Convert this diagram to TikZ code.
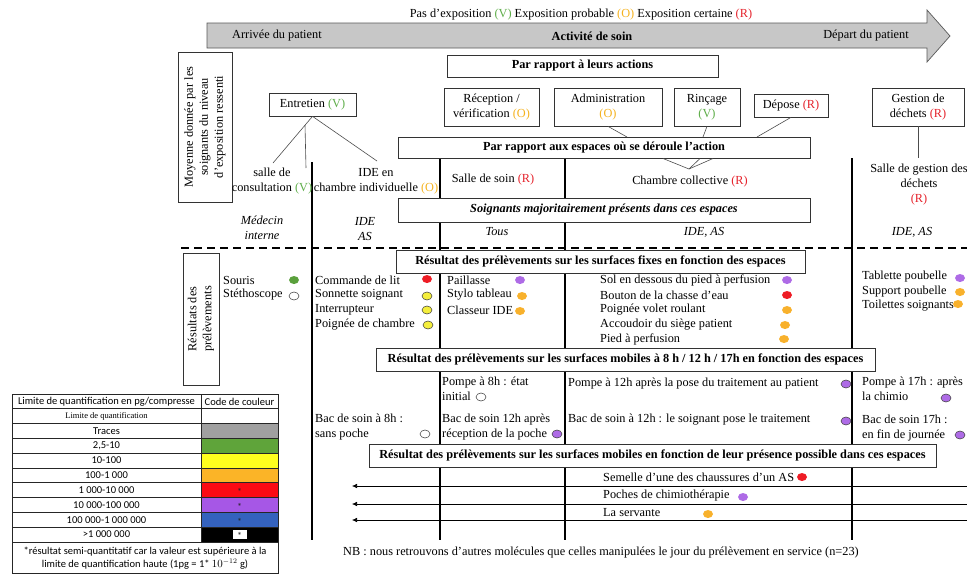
\documentclass[tikz,border=0pt]{standalone}
\usepackage{fontspec}
\setmainfont{Liberation Serif}
\newfontfamily\calib{Carlito}
\usetikzlibrary{arrows.meta,shapes.geometric}
\definecolor{tV}{HTML}{5FAE4A}
\definecolor{tO}{HTML}{F5B21E}
\definecolor{tR}{HTML}{E5222B}
\definecolor{dGreen}{HTML}{5AA03C}
\definecolor{dRed}{HTML}{EE1C25}
\definecolor{dYellow}{HTML}{F4EE3C}
\definecolor{dPurple}{HTML}{AE6BE6}
\definecolor{dOrange}{HTML}{F8B12C}
\definecolor{cGrey}{HTML}{A0A0A0}
\definecolor{cGreen}{HTML}{5FA43A}
\definecolor{cYellow}{HTML}{FFFF1E}
\definecolor{cOrange}{HTML}{FBB427}
\definecolor{cRed}{HTML}{FB0A14}
\definecolor{cPurple}{HTML}{A657E6}
\definecolor{cBlue}{HTML}{3462BE}
\newcommand{\fsz}{\fontsize{12.3}{15}\selectfont}
\newcommand{\tsz}{\calib\fontsize{10.5}{13}\selectfont}
\newcommand{\Vg}{\textcolor{tV}{(V)}}
\newcommand{\Og}{\textcolor{tO}{(O)}}
\newcommand{\Rg}{\textcolor{tR}{(R)}}
\begin{document}
\begin{tikzpicture}[x=1pt,y=-1pt,
  every node/.style={font=\fsz, inner sep=0pt},
  box/.style={draw=black!80, fill=white, line width=0.7pt, align=center},
  lbl/.style={anchor=west, align=left},
  dot/.style={ellipse, minimum width=10pt, minimum height=8pt, inner sep=0pt},
  odot/.style={dot, draw=black!75, line width=0.5pt},
  sep/.style={line width=1.7pt},
  conn/.style={draw=black!70, line width=0.6pt},
  parr/.style={line width=0.6pt, -{Latex[length=5pt,width=4.5pt]}},
  tbl/.style={font=\tsz},
  star/.style={font=\calib\fontsize{10}{10}\selectfont, text=black!85},
  tline/.style={draw=black!85, line width=0.7pt}
]
\useasboundingbox (0,0) rectangle (967,574);

% separators
\draw[sep] (312,162) -- (312,540);
\draw[sep] (440,158) -- (440,540);
\draw[sep] (565,158) -- (565,540);
\draw[sep] (852,158) -- (852,540);
\draw[sep, dash pattern=on 8pt off 5pt] (181,248) -- (967,248);

% timeline arrow
\draw[fill=black!22, draw=black!65, line width=0.7pt] (207,23) -- (927,23) -- (927,10) -- (950,36) -- (927,62) -- (927,48) -- (207,48) -- cycle;
\node (leg) at (581,15) {Pas d’exposition \Vg{} Exposition probable \Og{} Exposition certaine \Rg};
\node[anchor=west] (arrivee) at (232,36) {Arrivée du patient};
\node[font=\fsz\bfseries] (activite) at (592,36) {Activité de soin};
\node (depart) at (866,36) {Départ du patient};

% upper part
\node[box, rotate=90, minimum width=150, minimum height=54] (moy) at (205,127) {Moyenne donnée par les\\soignants du niveau\\d’exposition ressenti};
\node[box, font=\fsz\bfseries, minimum width=271, minimum height=22] (actions) at (582.5,66) {Par rapport à leurs actions};
\node[box, minimum width=87, minimum height=23] (ent) at (312.5,104.5) {Entretien \Vg};
\node[box, minimum width=95, minimum height=38] (rec) at (491.5,107) {Réception /\\vérification \Og};
\node[box, minimum width=108, minimum height=38] (adm) at (608,107) {Administration\\\Og};
\node[box, minimum width=66, minimum height=38] (rin) at (707,107) {Rinçage\\\Vg};
\node[box, minimum width=74, minimum height=23] (dpo) at (791,105.5) {Dépose \Rg};
\node[box, minimum width=92, minimum height=38] (ges) at (918,107) {Gestion de\\déchets \Rg};
\node[box, font=\fsz\bfseries, minimum width=412, minimum height=21] (esp) at (604,147.5) {Par rapport aux espaces où se déroule l’action};
\node[box, font=\fsz\bfseries\itshape, minimum width=412, minimum height=24] (soi) at (604,210) {Soignants majoritairement présents dans ces espaces};

\node[align=center] (sc) at (272,181) {salle de\\consultation \Vg};
\node[align=center] (ide) at (376,181) {IDE en\\chambre individuelle \Og};
\node (ss) at (493,180) {Salle de soin \Rg};
\node (cc) at (690,182) {Chambre collective \Rg};
\node[align=center] (sg) at (919,185) {Salle de gestion des\\déchets\\\Rg};
\node[align=center, font=\fsz\itshape] (med) at (262,228) {Médecin\\interne};
\node[align=center, font=\fsz\itshape] (ideas1) at (365,229) {IDE\\AS};
\node[font=\fsz\itshape] (tous) at (497,232) {Tous};
\node[font=\fsz\itshape] (ideas2) at (704,232) {IDE, AS};
\node[font=\fsz\itshape] (ideas3) at (912,232) {IDE, AS};

% connectors
\coordinate (e0) at (305,125);
\coordinate (e1) at (273,163);
\coordinate (e2) at (306,168);
\coordinate (e3) at (377,161);
\draw[conn] (ent.south) -- (e1);
\draw[conn] (e0) -- (e2);
\draw[conn] (ent.south) -- (e3);
\coordinate (a1) at (627,137);
\draw[conn] (adm.south) -- (a1);
\coordinate (r1) at (703,137);
\draw[conn] (rin.south) -- (r1);
\coordinate (d1) at (757,137);
\draw[conn] (dpo.south) -- (d1);
\coordinate (g1) at (918,158);
\draw[conn] (ges.south) -- (g1);
\coordinate (cm) at (689,169);
\coordinate (ca) at (663,158.5);
\coordinate (cb) at (700,158.5);
\coordinate (cd) at (713,158.5);
\draw[conn] (ca) -- (cm);
\draw[conn] (cb) -- (cm);
\draw[conn] (cd) -- (cm);

% lower part: fixed surfaces
\node[box, rotate=90, minimum width=132, minimum height=36] (res) at (201,319) {Résultats des\\prélèvements};
\node[box, font=\fsz\bfseries, minimum width=409, minimum height=23] (fix) at (600.5,261.5) {Résultat des prélèvements sur les surfaces fixes en fonction des espaces};

\node[lbl] (f11) at (223,280) {Souris};
\node[lbl] (f12) at (223,295) {Stéthoscope};
\node[dot, fill=dGreen] (g11) at (294,280) {};
\node[odot, fill=white] (g12) at (294,296) {};

\node[lbl] (f21) at (315,280) {Commande de lit};
\node[lbl] (f22) at (315,295) {Sonnette soignant};
\node[lbl] (f23) at (315,310) {Interrupteur};
\node[lbl] (f24) at (315,325) {Poignée de chambre};
\node[dot, fill=dRed] (g21) at (427,279) {};
\node[odot, fill=dYellow] (g22) at (427,296) {};
\node[odot, fill=dYellow] (g23) at (427,310) {};
\node[odot, fill=dYellow] (g24) at (428,325) {};

\node[lbl] (f31) at (447,280) {Paillasse};
\node[lbl] (f32) at (447,295) {Stylo tableau};
\node[lbl] (f33) at (447,310) {Classeur IDE};
\node[dot, fill=dPurple] (g31) at (520,280) {};
\node[dot, fill=dOrange] (g32) at (522,296) {};
\node[dot, fill=dOrange] (g33) at (520,311) {};

\node[lbl] (f41) at (600,280) {Sol en dessous du pied à perfusion};
\node[lbl] (f42) at (600,295) {Bouton de la chasse d’eau};
\node[lbl] (f43) at (600,310) {Poignée volet roulant};
\node[lbl] (f44) at (600,325) {Accoudoir du siège patient};
\node[lbl] (f45) at (600,339) {Pied à perfusion};
\node[dot, fill=dPurple] (g41) at (787,280) {};
\node[dot, fill=dRed] (g42) at (787,295) {};
\node[dot, fill=dOrange] (g43) at (787,310) {};
\node[dot, fill=dOrange] (g44) at (785,325) {};
\node[dot, fill=dOrange] (g45) at (784,339) {};

\node[lbl] (f51) at (862,277) {Tablette poubelle};
\node[lbl] (f52) at (862,292) {Support poubelle};
\node[lbl] (f53) at (862,306) {Toilettes soignants};
\node[dot, fill=dPurple] (g51) at (960,278) {};
\node[dot, fill=dOrange] (g52) at (960,292) {};
\node[dot, fill=dOrange] (g53) at (958,304) {};

% mobile surfaces
\node[box, font=\fsz\bfseries, minimum width=499, minimum height=23] (mob) at (625.5,359.5) {Résultat des prélèvements sur les surfaces mobiles à 8 h / 12 h / 17h en fonction des espaces};
\node[lbl] (m31) at (442,388.5) {Pompe à 8h : état\\initial};
\node[odot, fill=white] (h31) at (481,397) {};
\node[lbl] (m41) at (568,384) {Pompe à 12h après la pose du traitement au patient};
\node[odot, fill=dPurple] (h41) at (846,384) {};
\node[lbl] (m51) at (862,388.5) {Pompe à 17h : après\\la chimio};
\node[odot, fill=dPurple] (h51) at (946,398) {};
\node[lbl] (m21) at (315,427.5) {Bac de soin à 8h :\\sans poche};
\node[odot, fill=white] (h21) at (425,434) {};
\node[lbl] (m32) at (442,427.5) {Bac de soin 12h après\\réception de la poche};
\node[odot, fill=dPurple] (h32) at (557,434) {};
\node[lbl] (m42) at (568,420) {Bac de soin à 12h : le soignant pose le traitement};
\node[odot, fill=dPurple] (h42) at (846,421) {};
\node[lbl] (m52) at (862,428) {Bac de soin 17h :\\en fin de journée};
\node[odot, fill=dPurple] (h52) at (960,435) {};

% presence
\node[box, font=\fsz\bfseries, minimum width=567, minimum height=23] (pres) at (652.5,455.5) {Résultat des prélèvements sur les surfaces mobiles en fonction de leur présence possible dans ces espaces};
\coordinate (p1r) at (967,486); \coordinate (p1l) at (352,486);
\coordinate (p2r) at (967,504); \coordinate (p2l) at (352,504);
\coordinate (p3r) at (967,520); \coordinate (p3l) at (352,520);
\draw[parr] (p1r) -- (p1l);
\draw[parr] (p2r) -- (p2l);
\draw[parr] (p3r) -- (p3l);
\node[lbl] (s1) at (603,477) {Semelle d’une des chaussures d’un AS};
\node[dot, fill=dRed] (t1) at (802,477) {};
\node[lbl] (s2) at (603,496) {Poches de chimiothérapie};
\node[dot, fill=dPurple] (t2) at (743,497) {};
\node[lbl] (s3) at (603,513) {La servante};
\node[dot, fill=dOrange] (t3) at (708,514) {};

\node[lbl] (nb) at (343,553) {NB : nous retrouvons d’autres molécules que celles manipulées le jour du prélèvement en service (n=23)};

% legend table
\fill[cGrey] (201,423.6) rectangle (278,438.4);
\fill[cGreen] (201,438.4) rectangle (278,453.2);
\fill[cYellow] (201,453.2) rectangle (278,468);
\fill[cOrange] (201,468) rectangle (278,482.8);
\fill[cRed] (201,482.8) rectangle (278,497.6);
\fill[cPurple] (201,497.6) rectangle (278,512.4);
\fill[cBlue] (201,512.4) rectangle (278,527.2);
\fill[black] (201,527.2) rectangle (278,542);
\draw[tline] (12,394) rectangle (278,573.5);
\foreach \yy in {408.8,423.6,438.4,453.2,468,482.8,497.6,512.4,527.2,542}
  \draw[tline] (12,\yy) -- (278,\yy);
\draw[tline] (201,394) -- (201,542);
\node[tbl] (th1) at (106.5,401.4) {Limite de quantification en pg/compresse};
\node[tbl] (th2) at (239.5,401.4) {Code de couleur};
\node[font=\fontsize{8.5}{10}\selectfont] (r1) at (106.5,416.2) {Limite de quantification};
\node[tbl] (r2) at (106.5,431) {Traces};
\node[tbl] (r3) at (106.5,445.8) {2,5-10};
\node[tbl] (r4) at (106.5,460.6) {10-100};
\node[tbl] (r5) at (106.5,475.4) {100-1 000};
\node[tbl] (r6) at (106.5,490.2) {1 000-10 000};
\node[tbl] (r7) at (106.5,505) {10 000-100 000};
\node[tbl] (r8) at (106.5,519.8) {100 000-1 000 000};
\node[tbl] (r9) at (106.5,534.6) {>1 000 000};
\node[star] (st6) at (239.5,492) {*};
\node[star] (st7) at (239.5,506.8) {*};
\node[star] (st8) at (239.5,521.6) {*};
\node[fill=white, minimum width=14, minimum height=9] (st9) at (239.5,534.6) {};
\node[star] (st9s) at (239.5,536.4) {*};
\node[tbl, align=center] (foot) at (145,558) {*résultat semi-quantitatif car la valeur est supérieure à la\\limite de quantification haute (1pg = 1* $10^{-12}$ g)};
\end{tikzpicture}
\end{document}
